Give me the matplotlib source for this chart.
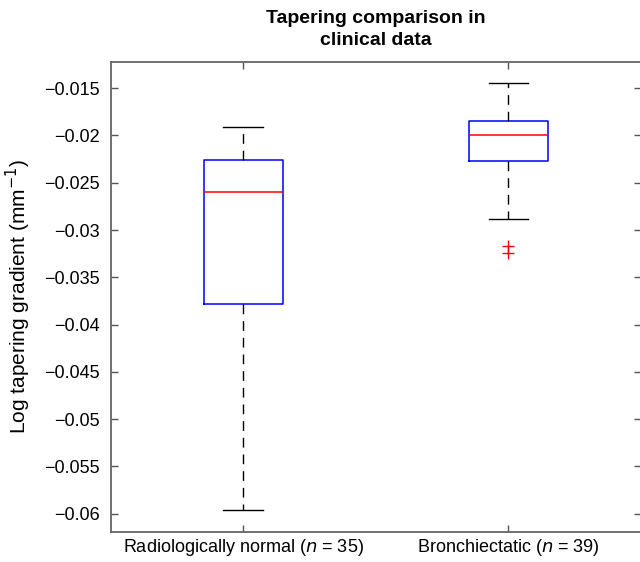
import matplotlib
matplotlib.use("Agg")
import matplotlib.pyplot as plt
from matplotlib.ticker import FuncFormatter

plt.rcParams['font.family'] = ['Liberation Sans', 'DejaVu Sans']

# box statistics
groups = ['Radiologically normal ($\\it{n}$ = 35)', 'Bronchiectatic ($\\it{n}$ = 39)']
whislo = [-0.05965, -0.02882]
q1 = [-0.03787, -0.02265]
med = [-0.02593, -0.0199]
q3 = [-0.02255, -0.01842]
whishi = [-0.01906, -0.01444]
fliers = [[], [-0.03164, -0.03248]]
yticks = [-0.015, -0.02, -0.025, -0.03, -0.035, -0.04, -0.045, -0.05, -0.055, -0.06]

stats = []
for i in range(len(groups)):
    stats.append({'whislo': whislo[i], 'q1': q1[i], 'med': med[i],
                  'q3': q3[i], 'whishi': whishi[i], 'fliers': fliers[i],
                  'label': groups[i]})

fig = plt.figure(figsize=(6.4, 5.62), dpi=100)
ax = fig.add_axes([110.7/640, 1-531.7/562, (641-110.7)/640, (531.7-61.7)/562])

ax.bxp(stats, positions=[1, 2], widths=0.3, showfliers=True,
       boxprops=dict(color='blue', linewidth=1.1),
       medianprops=dict(color='red', linewidth=1.1),
       whiskerprops=dict(color='black', linewidth=1, linestyle=(0, (7, 5))),
       capprops=dict(color='black', linewidth=1),
       flierprops=dict(marker='+', markeredgecolor='red', markersize=8,
                       markeredgewidth=1, linestyle='none'))

ax.set_xlim(0.5, 2.5)
ax.set_ylim(-0.0619, -0.0122)
ax.set_yticks(yticks)
ax.yaxis.set_major_formatter(FuncFormatter(lambda v, p: ('%g' % v).replace('-', '\u2212')))
ax.tick_params(direction='in', length=5, width=1, color='#555555',
               top=True, right=True, labelsize=13)
ax.tick_params(axis='y', pad=8)
ax.tick_params(axis='x', pad=4)
for s in ax.spines.values():
    s.set_color('#666666')
    s.set_linewidth(1.3)

ax.set_ylabel('Log tapering gradient (mm$^{-1}$)', fontsize=15, labelpad=8)
ax.set_title('Tapering comparison in\nclinical data', fontsize=14, fontweight='bold',
             pad=12, linespacing=1.35)

fig.savefig('out.png', dpi=100)
